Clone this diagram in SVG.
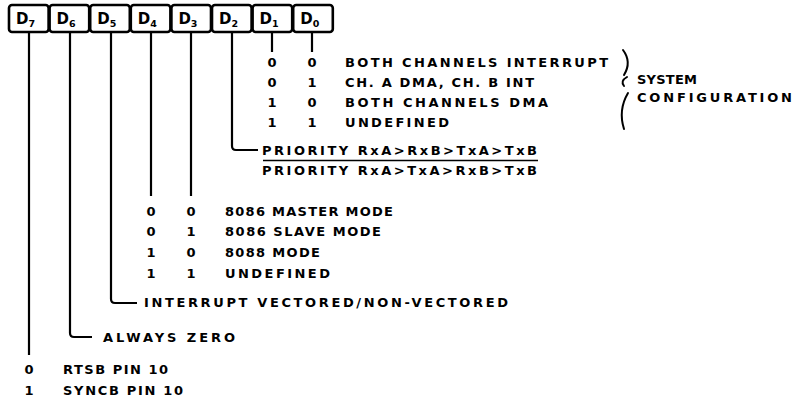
<svg xmlns="http://www.w3.org/2000/svg" width="793" height="400" viewBox="0 0 793 400">
<style>
.box{fill:#fff;stroke:#000;stroke-width:2.6}
.t{font-family:"DejaVu Sans","Liberation Sans",sans-serif;font-weight:bold;font-size:13px;fill:#000}
.v{font-family:"DejaVu Sans","Liberation Sans",sans-serif;font-weight:bold;font-size:13px;fill:#000;text-anchor:middle}
.bl{font-family:"DejaVu Sans","Liberation Sans",sans-serif;font-weight:bold;font-size:15px;fill:#000}
.sub{font-size:9.5px}
.c{fill:none;stroke:#000;stroke-width:2.2;stroke-linejoin:round}
.br{fill:none;stroke:#000;stroke-width:2;stroke-linecap:round}
.ov{fill:none;stroke:#000;stroke-width:1.6}
</style>
<rect width="793" height="400" fill="#fff"/>
<g id="register">
  <g id="bit-D7"><rect class="box" x="9" y="5" width="39.6" height="27" rx="3"/><text class="bl" x="16" y="23.5">D<tspan class="sub" dy="3">7</tspan></text></g>
  <g id="bit-D6"><rect class="box" x="49.6" y="5" width="39.6" height="27" rx="3"/><text class="bl" x="56.6" y="23.5">D<tspan class="sub" dy="3">6</tspan></text></g>
  <g id="bit-D5"><rect class="box" x="90.2" y="5" width="39.6" height="27" rx="3"/><text class="bl" x="97.2" y="23.5">D<tspan class="sub" dy="3">5</tspan></text></g>
  <g id="bit-D4"><rect class="box" x="130.8" y="5" width="39.6" height="27" rx="3"/><text class="bl" x="137.8" y="23.5">D<tspan class="sub" dy="3">4</tspan></text></g>
  <g id="bit-D3"><rect class="box" x="171.4" y="5" width="39.6" height="27" rx="3"/><text class="bl" x="178.4" y="23.5">D<tspan class="sub" dy="3">3</tspan></text></g>
  <g id="bit-D2"><rect class="box" x="212" y="5" width="39.6" height="27" rx="3"/><text class="bl" x="219" y="23.5">D<tspan class="sub" dy="3">2</tspan></text></g>
  <g id="bit-D1"><rect class="box" x="252.6" y="5" width="39.6" height="27" rx="3"/><text class="bl" x="259.6" y="23.5">D<tspan class="sub" dy="3">1</tspan></text></g>
  <g id="bit-D0"><rect class="box" x="293.2" y="5" width="39.6" height="27" rx="3"/><text class="bl" x="300.2" y="23.5">D<tspan class="sub" dy="3">0</tspan></text></g>
</g>
<g id="connectors">
  <path class="c" d="M29,32 V355"/>
  <path class="c" d="M70,32 V333 Q70,337 74,337 H92"/>
  <path class="c" d="M111,32 V299 Q111,303 115,303 H137"/>
  <path class="c" d="M151,32 V196"/>
  <path class="c" d="M191,32 V196"/>
  <path class="c" d="M232,32 V146 Q232,150 236,150 H258"/>
  <path class="c" d="M272,32 V52"/>
  <path class="c" d="M312,32 V52"/>
</g>
<g id="d1d0-table">
  <text class="v" x="272" y="67">0</text><text class="v" x="312" y="67">0</text>
  <text class="t" x="345" y="67" textLength="263" lengthAdjust="spacing">BOTH CHANNELS INTERRUPT</text>
  <text class="v" x="272" y="87">0</text><text class="v" x="312" y="87">1</text>
  <text class="t" x="345" y="87" textLength="189" lengthAdjust="spacing">CH. A DMA, CH. B INT</text>
  <text class="v" x="272" y="107">1</text><text class="v" x="312" y="107">0</text>
  <text class="t" x="345" y="107" textLength="203" lengthAdjust="spacing">BOTH CHANNELS DMA</text>
  <text class="v" x="272" y="127">1</text><text class="v" x="312" y="127">1</text>
  <text class="t" x="345" y="127" textLength="104" lengthAdjust="spacing">UNDEFINED</text>
</g>
<g id="system-configuration">
  <path class="br" d="M623,50 Q632,62 624,75"/>
  <path class="br" d="M627,77 Q620,81 624,86"/>
  <path class="br" d="M628,93 Q618,110 624,129"/>
  <text class="t" x="637" y="84" textLength="60" lengthAdjust="spacing">SYSTEM</text>
  <text class="t" x="637" y="102" textLength="155" lengthAdjust="spacing">CONFIGURATION</text>
</g>
<g id="d2-priority">
  <text class="t" x="262" y="155" textLength="275" lengthAdjust="spacing">PRIORITY RxA&gt;RxB&gt;TxA&gt;TxB</text>
  <line class="ov" x1="263" y1="160.5" x2="538" y2="160.5"/>
  <text class="t" x="262" y="175" textLength="275" lengthAdjust="spacing">PRIORITY RxA&gt;TxA&gt;RxB&gt;TxB</text>
</g>
<g id="d4d3-table">
  <text class="v" x="151" y="216">0</text><text class="v" x="191" y="216">0</text>
  <text class="t" x="225" y="216" textLength="168" lengthAdjust="spacing">8086 MASTER MODE</text>
  <text class="v" x="151" y="236">0</text><text class="v" x="191" y="236">1</text>
  <text class="t" x="225" y="236" textLength="156" lengthAdjust="spacing">8086 SLAVE MODE</text>
  <text class="v" x="151" y="257">1</text><text class="v" x="191" y="257">0</text>
  <text class="t" x="225" y="257" textLength="95" lengthAdjust="spacing">8088 MODE</text>
  <text class="v" x="151" y="278">1</text><text class="v" x="191" y="278">1</text>
  <text class="t" x="225" y="278" textLength="105" lengthAdjust="spacing">UNDEFINED</text>
</g>
<g id="d5-label">
  <text class="t" x="144" y="307" textLength="364" lengthAdjust="spacing">INTERRUPT VECTORED/NON-VECTORED</text>
</g>
<g id="d6-label">
  <text class="t" x="103" y="342" textLength="132" lengthAdjust="spacing">ALWAYS ZERO</text>
</g>
<g id="d7-table">
  <text class="v" x="29" y="373.5">0</text>
  <text class="t" x="63" y="373.5" textLength="105" lengthAdjust="spacing">RTSB PIN 10</text>
  <text class="v" x="29" y="394.5">1</text>
  <text class="t" x="63" y="394.5" textLength="120" lengthAdjust="spacing">SYNCB PIN 10</text>
</g>
</svg>
